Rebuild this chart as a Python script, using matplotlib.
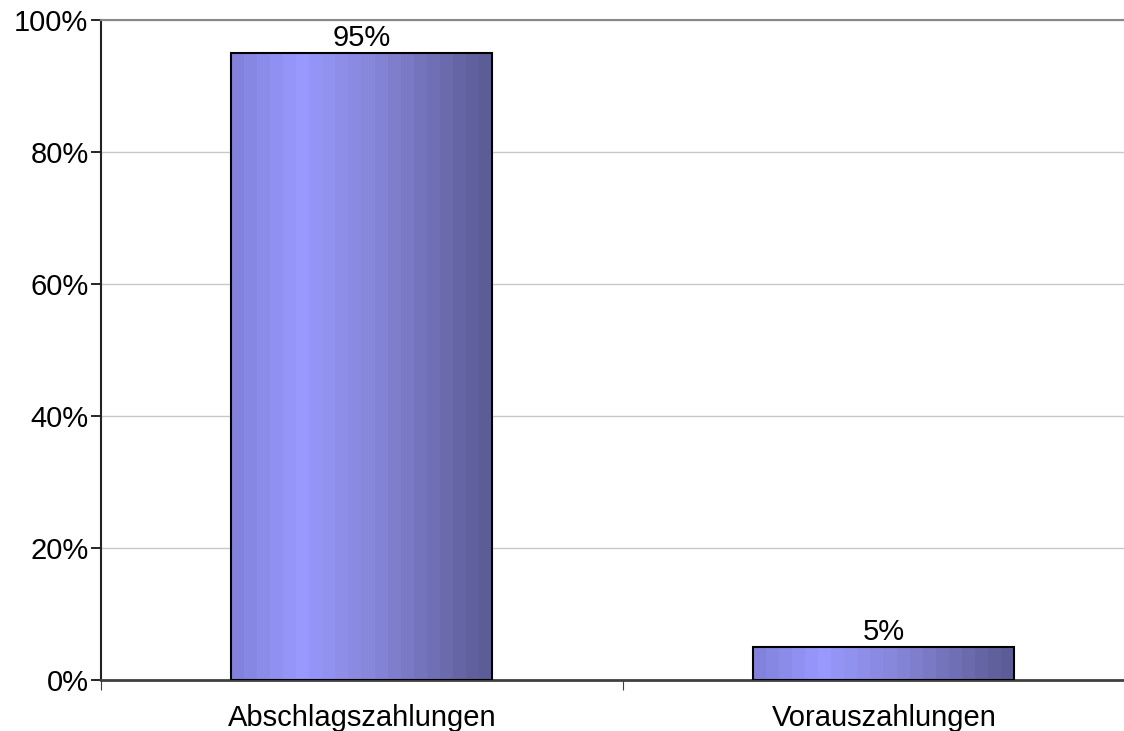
import numpy as np
import matplotlib.pyplot as plt
from matplotlib.colors import LinearSegmentedColormap
from matplotlib.ticker import PercentFormatter

plt.rcParams['font.family'] = ['Liberation Sans', 'DejaVu Sans']

categories = ['Abschlagszahlungen', 'Vorauszahlungen']
values = [95, 5]
labels = ['95%', '5%']

fig = plt.figure(figsize=(11.24, 7.31), dpi=100)
ax = fig.add_axes([101 / 1124, 51 / 731, 1 - 101 / 1124, 660 / 731])

x = np.arange(len(categories))
bars = ax.bar(x, values, width=0.5, color='none', edgecolor='black', linewidth=1.5, zorder=3)

# stufiger Farbverlauf wie im Original
cmap = LinearSegmentedColormap.from_list(
    'verlauf', [(0, '#8282dc'), (0.25, '#9999ff'), (0.55, '#8686da'), (1, '#5c5c96')], N=20)
grad = np.linspace(0, 1, 20).reshape(1, -1)
for b in bars:
    im = ax.imshow(grad, cmap=cmap, aspect='auto', interpolation='nearest',
                   extent=[b.get_x(), b.get_x() + b.get_width(), 0, b.get_height()], zorder=2)
    im.set_clip_path(b)

for xi, v, lab in zip(x, values, labels):
    ax.text(xi, v + 0.2, lab, ha='center', va='bottom', fontsize=21)

ax.set_xlim(-0.5, 1.46)
ax.set_ylim(0, 100)
ax.set_yticks(np.arange(0, 101, 20))
ax.yaxis.set_major_formatter(PercentFormatter(decimals=0))
ax.set_xticks([-0.5, 0.5])
ax.set_xticks([0, 1], minor=True)
ax.set_xticklabels(['', ''])
ax.set_xticklabels(categories, minor=True)
ax.tick_params(axis='x', which='minor', length=0, pad=17, labelsize=21)
ax.tick_params(axis='x', which='major', length=7, color='#404040', direction='out')
ax.tick_params(axis='y', length=7, width=1.2, labelsize=21, pad=2)

ax.grid(axis='y', color='#c8c8c8', linewidth=1, zorder=0)
ax.set_axisbelow(True)
ax.spines['right'].set_visible(False)
ax.spines['top'].set_color('#888888')
ax.spines['top'].set_linewidth(1.5)
ax.spines['left'].set_color('#222222')
ax.spines['left'].set_linewidth(1.5)
ax.spines['bottom'].set_color('#404040')
ax.spines['bottom'].set_linewidth(2)

fig.savefig('out.png', dpi=100)
